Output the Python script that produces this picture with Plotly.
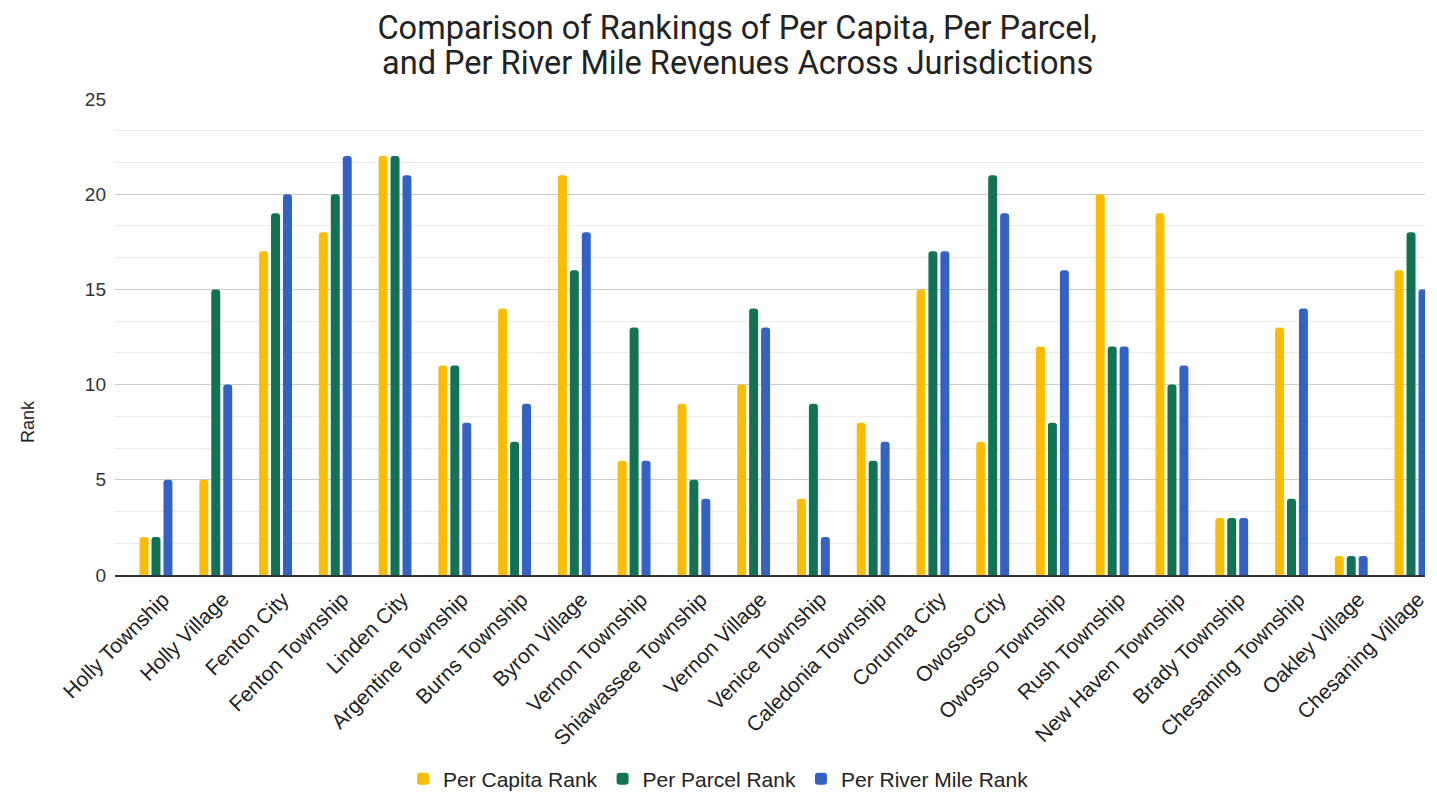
import plotly.graph_objects as go

jurisdictions = ["Holly Township", "Holly Village", "Fenton City", "Fenton Township", "Linden City",
                 "Argentine Township", "Burns Township", "Byron Village", "Vernon Township",
                 "Shiawassee Township", "Vernon Village", "Venice Township", "Caledonia Township",
                 "Corunna City", "Owosso City", "Owosso Township", "Rush Township",
                 "New Haven Township", "Brady Township", "Chesaning Township", "Oakley Village",
                 "Chesaning Village"]
per_capita = [2, 5, 17, 18, 22, 11, 14, 21, 6, 9, 10, 4, 8, 15, 7, 12, 20, 19, 3, 13, 1, 16]
per_parcel = [2, 15, 19, 20, 22, 11, 7, 16, 13, 5, 14, 9, 6, 17, 21, 8, 12, 10, 3, 4, 1, 18]
per_river_mile = [5, 10, 20, 22, 21, 8, 9, 18, 6, 4, 13, 2, 7, 17, 19, 16, 12, 11, 3, 14, 1, 15]

title_line1 = "Comparison of Rankings of Per Capita, Per Parcel,"
title_line2 = "and Per River Mile Revenues Across Jurisdictions"

series = [
    ("Per Capita Rank", per_capita, "#FBBC04"),
    ("Per Parcel Rank", per_parcel, "#117353"),
    ("Per River Mile Rank", per_river_mile, "#3462C4"),
]

fig = go.Figure()
for name, vals, color in series:
    fig.add_trace(go.Bar(x=jurisdictions, y=vals, name=name,
                         marker=dict(color=color, cornerradius=3, line=dict(width=0))))

title_font = dict(family="Roboto, Inter, sans-serif", size=32.5, color="#222222")
fig.update_layout(
    width=1437, height=793,
    barmode="group", bargap=0.40, bargroupgap=0.25,
    plot_bgcolor="white", paper_bgcolor="white",
    margin=dict(l=115, r=12, t=99, b=218, autoexpand=False),
    font=dict(family="Liberation Sans, Arial, sans-serif", size=19, color="#222222"),
    title=dict(text=title_line1, x=0.513, xanchor="center", xref="container",
               y=1 - 28 / 793, yanchor="middle", yref="container", font=title_font),
    legend=dict(orientation="h", x=403 / 1437, xanchor="left", xref="container",
                y=1 - 779 / 793, yanchor="middle", yref="container",
                font=dict(size=21, color="#222222"), traceorder="normal"),
    showlegend=True,
    annotations=[
        dict(text=title_line2, x=(737 - 115) / 1310, xref="paper", xanchor="center",
             y=(575 - 63) / 476, yref="paper", yanchor="middle", showarrow=False, font=title_font),
        dict(text="Rank", textangle=-90, x=(28 - 115) / 1310, xref="paper", xanchor="center",
             y=(575 - 422) / 476, yref="paper", yanchor="middle", showarrow=False,
             font=dict(size=18, color="#222222")),
    ],
)
fig.update_xaxes(tickangle=-45, showgrid=False, showline=True, linecolor="#333333", linewidth=1.5,
                 tickfont=dict(size=21, color="#222222"), ticks="", range=[-0.686, 21.234],
                 automargin=False, ticklabelshift=7, ticklabelstandoff=2)
fig.update_yaxes(range=[0, 25], dtick=5, tick0=0, showgrid=True, gridcolor="#cccccc", gridwidth=1,
                 zeroline=False, tickfont=dict(size=19, color="#333333"), ticks="", ticklabelstandoff=8,
                 automargin=False,
                 minor=dict(dtick=5/3, tick0=0, showgrid=True, gridcolor="#ebebeb", gridwidth=1))
fig.write_html("out.html")
